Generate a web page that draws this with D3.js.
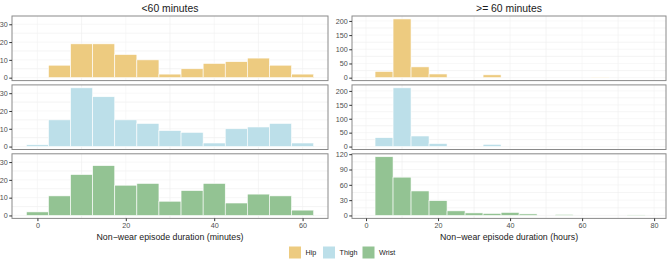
<!DOCTYPE html>
<html>
<head>
<meta charset="utf-8">
<script src="https://cdn.jsdelivr.net/npm/d3@7"></script>
<style>
  body { margin: 0; background: #fff; }
  svg { display: block; font-family: "Liberation Sans", Arial, sans-serif; }
</style>
</head>
<body>
<div id="chart"></div>
<script>
// ---- data (counts per 5-unit bin) ----
const sensors = ["Hip", "Thigh", "Wrist"];
const colors = ["#EDCB80", "#BCDFE9", "#93C393"];

// <60 minutes, bin centres in minutes
const shortBins = [0, 5, 10, 15, 20, 25, 30, 35, 40, 45, 50, 55, 60];
const shortHip   = [0, 7, 19, 19, 13, 10, 2, 5, 8, 9, 11, 7, 2];
const shortThigh = [1, 15, 33, 28, 15, 13, 9, 8, 2, 10, 11, 13, 2];
const shortWrist = [2, 11, 23, 28, 17, 18, 8, 14, 18, 7, 12, 11, 3];

// >= 60 minutes, bin centres in hours
const longBins = [5, 10, 15, 20, 25, 30, 35, 40, 45, 50, 55, 60, 65, 70, 75];
const longHip   = [22, 207, 38, 13, 0, 0, 10, 0, 0, 0, 0, 0, 1, 0, 0];
const longThigh = [32, 211, 38, 11, 0, 0, 8, 0, 0, 0, 0, 0, 0, 0, 0];
const longWrist = [115, 75, 48, 29, 9, 5, 4, 6, 3, 0, 2, 0, 0, 0, 1];

const shortTicksX = [0, 20, 40, 60];
const longTicksX = [0, 20, 40, 60, 80];
const shortTicksY = [[0, 10, 20, 30], [0, 10, 20, 30], [0, 10, 20, 30]];
const longTicksY = [[0, 50, 100, 150, 200], [0, 50, 100, 150, 200], [0, 30, 60, 90, 120]];

const binWidth = 5;

// ---- layout ----
const W = 668, H = 266;
const top0 = 16, panelH = 64.6, gap = 4.3;
const cols = [
  {title: "<60 minutes", x0: 12, x1: 328, bins: shortBins, series: [shortHip, shortThigh, shortWrist],
   xdom: [-5.75, 65.75], xticks: shortTicksX, yticks: shortTicksY, shared: true,
   xlab: "Non\u2212wear episode duration (minutes)"},
  {title: ">= 60 minutes", x0: 352, x1: 666, bins: longBins, series: [longHip, longThigh, longWrist],
   xdom: [-3.9, 83.3], xticks: longTicksX, yticks: longTicksY, shared: false,
   xlab: "Non\u2212wear episode duration (hours)"}
];

const svg = d3.select("#chart").append("svg")
  .attr("width", W).attr("height", H);

cols.forEach(col => {
  let x = d3.scaleLinear().domain(col.xdom).range([col.x0, col.x1]);
  let colMax = d3.max(col.series.flat());

  svg.append("text")
    .attr("x", (col.x0 + col.x1) / 2).attr("y", 11.5)
    .attr("text-anchor", "middle")
    .attr("font-size", 10.4).attr("fill", "#1a1a1a")
    .text(col.title);

  col.series.forEach((vals, r) => {
    let py0 = top0 + r * (panelH + gap);
    let py1 = py0 + panelH;
    let m = col.shared ? colMax : d3.max(vals);
    let y = d3.scaleLinear().domain([-0.05 * m, 1.05 * m]).range([py1, py0]);

    let g = svg.append("g");

    // grid: minor then major
    let yt = col.yticks[r];
    let step = yt[1] - yt[0];
    let yMinor = d3.range(yt[0] - step / 2, 1.05 * m, step).filter(v => v > -0.05 * m);
    let xstep = col.xticks[1] - col.xticks[0];
    let xMinor = d3.range(col.xticks[0] - xstep / 2, col.xdom[1], xstep).filter(v => v > col.xdom[0]);

    g.selectAll(".hmin").data(yMinor).enter().append("line")
      .attr("x1", col.x0).attr("x2", col.x1)
      .attr("y1", d => y(d)).attr("y2", d => y(d))
      .attr("stroke", "#ececec").attr("stroke-width", 0.6);
    g.selectAll(".vmin").data(xMinor).enter().append("line")
      .attr("y1", py0).attr("y2", py1)
      .attr("x1", d => x(d)).attr("x2", d => x(d))
      .attr("stroke", "#ececec").attr("stroke-width", 0.6);
    g.selectAll(".hmaj").data(yt).enter().append("line")
      .attr("x1", col.x0).attr("x2", col.x1)
      .attr("y1", d => y(d)).attr("y2", d => y(d))
      .attr("stroke", "#f2f2f2").attr("stroke-width", 0.6);
    g.selectAll(".vmaj").data(col.xticks).enter().append("line")
      .attr("y1", py0).attr("y2", py1)
      .attr("x1", d => x(d)).attr("x2", d => x(d))
      .attr("stroke", "#f2f2f2").attr("stroke-width", 0.6);

    // bars
    let data = col.bins.map((b, i) => ({b: b, v: vals[i]})).filter(d => d.v > 0);
    g.selectAll(".bar").data(data).enter().append("rect")
      .attr("x", d => x(d.b - binWidth / 2))
      .attr("width", d => x(d.b + binWidth / 2) - x(d.b - binWidth / 2))
      .attr("y", d => y(d.v))
      .attr("height", d => y(0) - y(d.v))
      .attr("fill", colors[r])
      .attr("stroke", "#fff").attr("stroke-width", 0.6);

    // panel border
    g.append("rect")
      .attr("x", col.x0).attr("y", py0)
      .attr("width", col.x1 - col.x0).attr("height", panelH)
      .attr("fill", "none").attr("stroke", "#8a8a8a").attr("stroke-width", 1);

    // y axis
    let yAxis = d3.axisLeft(y).tickValues(yt).tickSize(2.75).tickPadding(1.5);
    let ya = svg.append("g").attr("transform", `translate(${col.x0},0)`).call(yAxis);
    ya.select(".domain").remove();
    ya.selectAll("line").attr("stroke", "#333");
    ya.selectAll("text").attr("font-size", 7.2).attr("fill", "#4d4d4d")
      .attr("font-family", "Liberation Sans, Arial, sans-serif");

    if (r === 2) {
      let xAxis = d3.axisBottom(x).tickValues(col.xticks).tickSize(2.75).tickPadding(1.5);
      let xa = svg.append("g").attr("transform", `translate(0,${py1})`).call(xAxis);
      xa.select(".domain").remove();
      xa.selectAll("line").attr("stroke", "#333");
      xa.selectAll("text").attr("font-size", 7.2).attr("fill", "#4d4d4d")
        .attr("font-family", "Liberation Sans, Arial, sans-serif");

      svg.append("text")
        .attr("x", (col.x0 + col.x1) / 2).attr("y", py1 + 22)
        .attr("text-anchor", "middle")
        .attr("font-size", 8.8).attr("fill", "#1a1a1a")
        .text(col.xlab);
    }
  });
});

// legend
const legendX = [289, 323, 362.5];
const lg = svg.append("g");
sensors.forEach((s, i) => {
  lg.append("rect")
    .attr("x", legendX[i]).attr("y", 246.5)
    .attr("width", 12).attr("height", 12)
    .attr("fill", colors[i]);
  lg.append("text")
    .attr("x", legendX[i] + 16.5).attr("y", 255.3)
    .attr("font-size", 7.2).attr("fill", "#1a1a1a")
    .text(s);
});
</script>
</body>
</html>
